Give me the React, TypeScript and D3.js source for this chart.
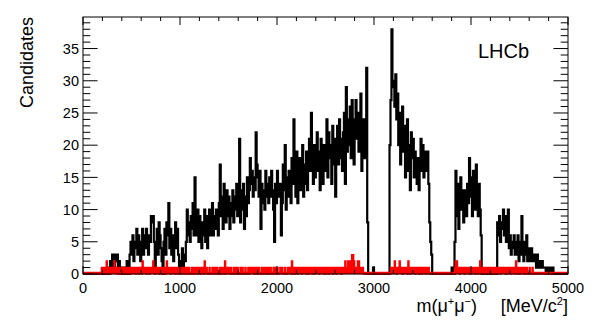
import React from "react";
import * as d3 from "d3";

// m(mu+mu-) histogram, 10 MeV bins from 0 to 5000
const blackCounts = [
  0, 0, 0, 0, 0, 0, 0, 0, 0, 0,
  0, 0, 0, 0, 0, 0, 0, 0, 0, 0,
  0, 0, 0, 0, 0, 1, 0, 1, 2, 1,
  3, 2, 1, 3, 2, 3, 1, 2, 1, 0,
  1, 0, 1, 0, 1, 2, 0, 1, 3, 5,
  3, 6, 2, 5, 4, 7, 3, 6, 5, 2,
  5, 7, 3, 6, 4, 7, 5, 3, 6, 5,
  9, 8, 9, 5, 1, 4, 7, 3, 8, 6,
  4, 2, 0, 5, 7, 3, 8, 6, 11, 4,
  7, 3, 6, 2, 5, 8, 4, 7, 3, 1,
  1, 2, 4, 1, 3, 2, 5, 10, 6, 8,
  5, 9, 7, 11, 6, 15, 8, 6, 10, 5,
  9, 7, 4, 8, 6, 10, 5, 9, 4, 7,
  10, 6, 8, 11, 6, 9, 7, 10, 8, 6,
  11, 17, 9, 12, 7, 14, 10, 8, 13, 9,
  12, 7, 11, 9, 13, 8, 12, 10, 14, 9,
  12, 21, 8, 13, 10, 14, 7, 12, 9, 15,
  11, 13, 18, 14, 16, 12, 15, 13, 22, 17,
  15, 12, 16, 7, 14, 11, 13, 10, 16, 12,
  14, 11, 15, 12, 16, 13, 10, 5, 14, 11,
  16, 13, 12, 14, 6, 11, 17, 13, 20, 10,
  15, 12, 16, 13, 11, 18, 14, 24, 17, 12,
  19, 11, 15, 18, 13, 16, 20, 12, 17, 14,
  19, 13, 17, 21, 16, 25, 19, 14, 20, 15,
  18, 22, 16, 19, 13, 21, 17, 14, 20, 16,
  19, 24, 15, 22, 18, 20, 14, 23, 17, 21,
  12, 19, 23, 17, 24, 18, 21, 16, 22, 25,
  14, 29, 19, 24, 20, 26, 18, 27, 22, 17,
  24, 27, 21, 25, 19, 23, 28, 16, 20, 24,
  18, 21, 32, 8, 0, 0, 0, 0, 0, 1,
  0, 0, 0, 0, 0, 0, 0, 0, 0, 0,
  0, 0, 0, 0, 0, 0, 20, 27, 38, 29,
  30, 26, 31, 24, 28, 20, 25, 17, 22, 26,
  19, 23, 15, 21, 24, 16, 20, 13, 22, 18,
  21, 15, 19, 17, 14, 18, 13, 17, 21, 16,
  20, 15, 19, 17, 16, 19, 14, 8, 5, 3,
  0, 0, 0, 0, 0, 0, 0, 0, 0, 0,
  0, 0, 0, 0, 0, 0, 0, 0, 0, 0,
  1, 0, 0, 5, 16, 9, 14, 7, 12, 15,
  10, 13, 8, 11, 13, 9, 14, 11, 18, 12,
  15, 9, 16, 13, 10, 17, 12, 9, 14, 10,
  6, 0, 0, 0, 0, 0, 0, 0, 0, 0,
  0, 0, 0, 0, 0, 0, 0, 8, 6, 9,
  5, 8, 7, 10, 6, 9, 5, 7, 10, 4,
  6, 3, 5, 4, 6, 3, 5, 3, 6, 2,
  5, 3, 9, 4, 2, 5, 3, 6, 2, 4,
  3, 2, 4, 3, 2, 3, 2, 1, 3, 2,
  1, 2, 1, 2, 1, 1, 1, 0, 1, 1,
  0, 1, 0, 0, 1, 0, 0, 0, 0, 0,
  0, 0, 0, 0, 0, 0, 0, 0, 0, 0,
];

const redCounts = [
  0, 0, 0, 0, 0, 0, 0, 0, 0, 0,
  0, 0, 0, 0, 0, 0, 0, 0, 0, 1,
  1, 1, 1, 0, 2, 1, 1, 1, 0, 1,
  1, 1, 2, 1, 1, 0, 1, 1, 0, 0,
  1, 0, 1, 1, 0, 1, 1, 0, 1, 0,
  1, 1, 1, 1, 0, 1, 1, 0, 1, 1,
  0, 2, 1, 1, 1, 0, 1, 1, 0, 1,
  1, 1, 2, 1, 0, 1, 1, 1, 0, 1,
  1, 0, 1, 1, 1, 0, 2, 1, 1, 1,
  0, 1, 1, 1, 0, 1, 1, 0, 1, 0,
  0, 1, 0, 1, 1, 0, 1, 1, 0, 1,
  0, 0, 1, 0, 1, 0, 1, 1, 0, 1,
  1, 0, 1, 1, 0, 2, 1, 1, 0, 0,
  1, 0, 0, 1, 0, 1, 1, 0, 1, 0,
  0, 1, 0, 1, 1, 0, 2, 0, 1, 1,
  1, 0, 1, 0, 0, 1, 0, 1, 0, 1,
  0, 0, 1, 0, 1, 0, 0, 1, 0, 0,
  1, 0, 1, 1, 1, 1, 0, 1, 0, 1,
  0, 1, 0, 0, 1, 0, 1, 1, 0, 1,
  0, 1, 0, 1, 0, 0, 1, 0, 1, 0,
  1, 0, 0, 1, 1, 1, 0, 0, 1, 0,
  0, 1, 1, 1, 0, 2, 0, 1, 0, 1,
  1, 0, 1, 1, 1, 0, 1, 1, 1, 1,
  0, 1, 0, 1, 1, 1, 0, 1, 0, 1,
  1, 1, 1, 0, 1, 1, 1, 1, 0, 1,
  0, 1, 1, 0, 1, 1, 1, 0, 1, 1,
  1, 0, 1, 1, 1, 1, 0, 1, 1, 1,
  2, 1, 1, 2, 1, 2, 1, 3, 3, 2,
  1, 1, 1, 2, 2, 1, 1, 1, 1, 0,
  0, 0, 0, 0, 0, 0, 0, 0, 0, 0,
  0, 0, 0, 0, 0, 0, 0, 0, 0, 0,
  0, 0, 0, 0, 0, 0, 0, 1, 1, 1,
  1, 2, 1, 0, 1, 1, 2, 1, 1, 0,
  1, 1, 1, 1, 0, 2, 1, 0, 1, 1,
  1, 1, 0, 1, 1, 1, 0, 1, 1, 0,
  1, 1, 1, 0, 1, 1, 1, 0, 0, 0,
  0, 0, 0, 0, 0, 0, 0, 0, 0, 0,
  0, 0, 0, 0, 0, 0, 0, 0, 0, 0,
  0, 0, 0, 1, 2, 2, 1, 1, 0, 1,
  1, 1, 1, 0, 1, 1, 1, 1, 0, 1,
  0, 1, 1, 1, 0, 1, 1, 0, 1, 2,
  1, 1, 1, 0, 1, 0, 1, 1, 1, 0,
  1, 1, 0, 1, 1, 0, 1, 1, 1, 1,
  0, 1, 1, 1, 1, 0, 1, 0, 1, 1,
  1, 0, 1, 1, 1, 0, 2, 1, 0, 1,
  0, 1, 1, 1, 0, 1, 0, 1, 0, 0,
  1, 0, 0, 1, 0, 0, 0, 0, 0, 0,
  0, 0, 0, 0, 0, 0, 0, 0, 0, 0,
  0, 0, 0, 0, 0, 0, 0, 0, 0, 0,
  0, 0, 0, 0, 0, 0, 0, 0, 0, 0,
];

const xTicks = [0, 1000, 2000, 3000, 4000, 5000];
const yTicks = [0, 5, 10, 15, 20, 25, 30, 35];
const xMax = 5000;
const yMax = 39.9;

const font = "'Liberation Sans', Arial, Helvetica, sans-serif";

function steps(counts: number[]): [number, number][] {
  const w = xMax / counts.length;
  const pts: [number, number][] = [];
  counts.forEach((c, i) => {
    pts.push([i * w, c]);
    pts.push([(i + 1) * w, c]);
  });
  return pts;
}

const App = () => {
  const left = 83,
    right = 568,
    top = 17,
    bottom = 274;

  const x = d3.scaleLinear().domain([0, xMax]).range([left, right]);
  const y = d3.scaleLinear().domain([0, yMax]).range([bottom, top]);

  const line = d3
    .line<[number, number]>()
    .x((d) => x(d[0]))
    .y((d) => y(d[1]));

  const area = d3
    .area<[number, number]>()
    .x((d) => x(d[0]))
    .y0(y(0))
    .y1((d) => y(d[1]));

  const blackPts = steps(blackCounts);
  const redPts = steps(redCounts);

  const xMinor = d3.range(0, xMax + 1, 200);
  const yMinor = d3.range(0, 40, 1);

  return (
    <svg
      width={598}
      height={327}
      style={{ position: "absolute", left: 0, top: 0, background: "#fff" }}
      fontFamily={font}
    >
      {/* histograms */}
      <path d={line(blackPts) || ""} fill="none" stroke="#000" strokeWidth={2.2} />
      <path d={area(redPts) || ""} fill="#ff0000" stroke="none" />
      <path d={line(redPts) || ""} fill="none" stroke="#ff0000" strokeWidth={1.5} />
      <line x1={left} x2={right} y1={bottom - 1} y2={bottom - 1} stroke="#ff0000" strokeWidth={2.5} />

      {/* frame */}
      <rect x={left} y={top} width={right - left} height={bottom - top} fill="none" stroke="#000" strokeWidth={1} />

      {/* x ticks */}
      {xMinor.map((v) => {
        const major = v % 1000 === 0;
        const len = major ? 8 : 4;
        return (
          <g key={"x" + v}>
            <line x1={x(v)} x2={x(v)} y1={bottom} y2={bottom - len} stroke="#000" />
            <line x1={x(v)} x2={x(v)} y1={top} y2={top + len} stroke="#000" />
          </g>
        );
      })}
      {/* y ticks */}
      {yMinor.map((v) => {
        const major = v % 5 === 0;
        const len = major ? 14.6 : 7.3;
        return (
          <g key={"y" + v}>
            <line x1={left} x2={left + len} y1={y(v)} y2={y(v)} stroke="#000" />
            <line x1={right} x2={right - len} y1={y(v)} y2={y(v)} stroke="#000" />
          </g>
        );
      })}

      {xTicks.map((v) => (
        <text key={"xl" + v} x={x(v)} y={293} textAnchor="middle" fontSize={14.5}>
          {v}
        </text>
      ))}
      {yTicks.map((v) => (
        <text key={"yl" + v} x={79} y={y(v)} dy="0.36em" textAnchor="end" fontSize={14.5}>
          {v}
        </text>
      ))}

      {/* titles */}
      <text transform={`translate(33,${top}) rotate(-90)`} textAnchor="end" fontSize={18}>
        Candidates
      </text>
      <text x={477} y={312} textAnchor="end" fontSize={18}>
        m(μ
        <tspan fontSize={11} dy={-7}>+</tspan>
        <tspan dy={7}>μ</tspan>
        <tspan fontSize={11} dy={-7}>−</tspan>
        <tspan dy={7}>)</tspan>
      </text>
      <text x={568} y={312} textAnchor="end" fontSize={18}>
        [MeV/c
        <tspan fontSize={11} dy={-7}>2</tspan>
        <tspan dy={7}>]</tspan>
      </text>
      <text x={478} y={58} fontSize={20}>
        LHCb
      </text>
    </svg>
  );
};

export default App;
